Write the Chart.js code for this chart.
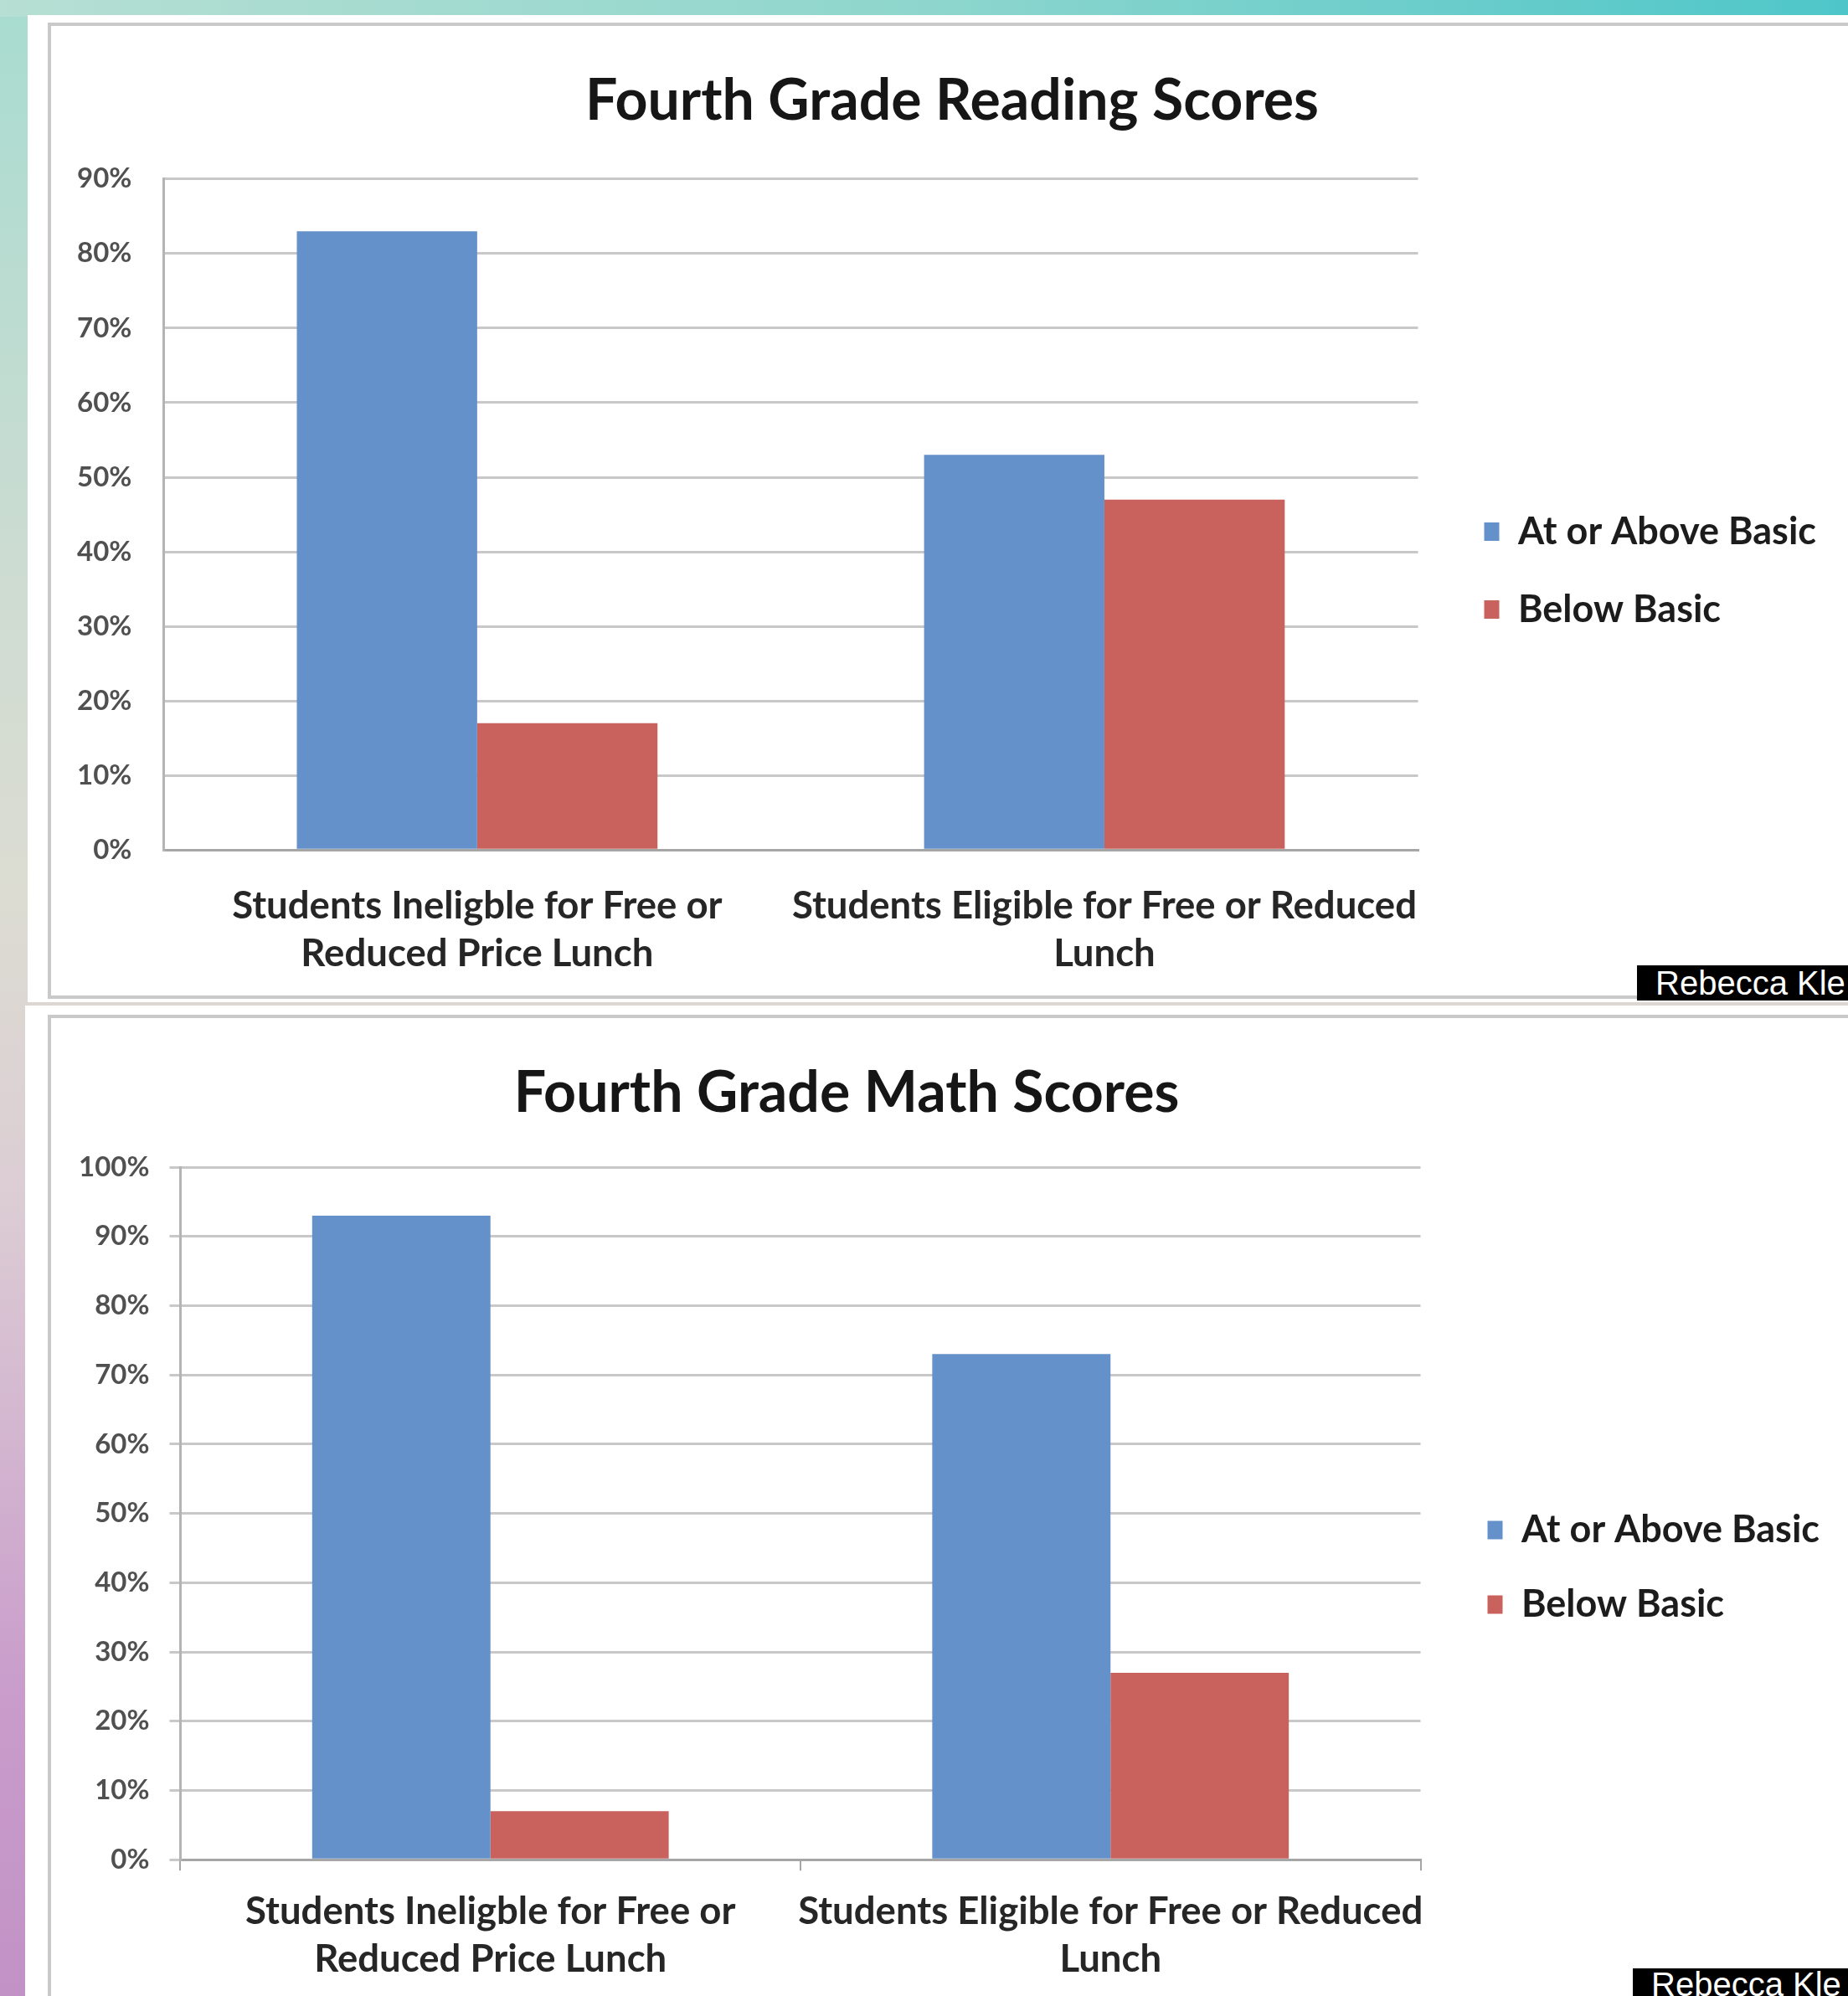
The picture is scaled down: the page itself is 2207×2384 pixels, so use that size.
<!DOCTYPE html>
<html>
<head>
<meta charset="utf-8">
<script src="https://cdn.jsdelivr.net/npm/chart.js@4.4.1/dist/chart.umd.min.js"></script>
<style>
    html, body {
        margin: 0;
        padding: 0;
    }
    body {
        width: 2207px;
        height: 2384px;
        position: relative;
        overflow: hidden;
        background: linear-gradient(to bottom, #a8dcd0 0%, #cfdcd2 30%, #dcdcd2 45%, #dccdd4 60%, #c99ccb 85%, #c292c6 100%);
    }
    .topband {
        position: absolute;
        left: 0; top: 0;
        width: 2207px; height: 20px;
        background: linear-gradient(to right, #b7dfd3 0%, #8ed6cd 50%, #4ec6c9 100%);
    }
    .panel {
        position: absolute;
        background: #ffffff;
    }
    .frame {
        position: absolute;
        border: 4px solid #c9c9c9;
        border-right: none;
        box-sizing: border-box;
    }
    .title {
        position: absolute;
        transform: translateX(-50%);
        font-family: Lato, sans-serif;
        font-weight: bold;
        font-size: 68px;
        line-height: 68px;
        color: #161616;
        white-space: nowrap;
    }
    .chartbox {
        position: absolute;
    }
    .credit {
        position: absolute;
        background: #000;
        color: #fff;
        font-family: "Liberation Sans", Arial, sans-serif;
        font-size: 40px;
        white-space: nowrap;
        overflow: hidden;
        box-sizing: border-box;
        padding-left: 22px;
    }
</style>
</head>
<body>
<div class="topband"></div>

<!-- ===== Reading panel ===== -->
<div class="panel" style="left:33px; top:18px; width:2174px; height:1179px;"></div>
<div class="frame" style="left:57px; top:27px; width:2150px; height:1166px;"></div>
<div class="title" style="left:1137px; top:83px;">Fourth Grade Reading Scores</div>
<div class="chartbox" style="left:24px; top:156px; width:2183px; height:1073px;">
    <canvas id="readingChart"></canvas>
</div>

<!-- ===== Math panel ===== -->
<div class="panel" style="left:30px; top:1201px; width:2177px; height:1183px;"></div>
<div class="frame" style="left:57px; top:1212px; width:2150px; height:1200px;"></div>
<div class="title" style="left:1011px; top:1268px;">Fourth Grade Math Scores</div>
<div class="chartbox" style="left:37px; top:1340px; width:2170px; height:1067px;">
    <canvas id="mathChart"></canvas>
</div>

<div class="credit" style="left:1955px; top:1153px; width:252px; height:42px; line-height:42px;">Rebecca Kle</div>
<div class="credit" style="left:1950px; top:2351px; width:257px; height:40px; line-height:38px;">Rebecca Kle</div>

<script>
/* ===============================
   DATA
================================ */
const categories = [
    ["Students Ineligble for Free or", "Reduced Price Lunch"],
    ["Students Eligible for Free or Reduced", "Lunch"]
];
const seriesNames = ["At or Above Basic", "Below Basic"];
const seriesColors = ["#6591ca", "#c9615c"];

const readingAbove = [83, 53];
const readingBelow = [17, 47];
const readingTicks = ["0%", "10%", "20%", "30%", "40%", "50%", "60%", "70%", "80%", "90%"];

const mathAbove = [93, 73];
const mathBelow = [7, 27];
const mathTicks = ["0%", "10%", "20%", "30%", "40%", "50%", "60%", "70%", "80%", "90%", "100%"];

/* ===============================
   DEFAULTS
================================ */
Chart.defaults.font.family = "Lato, sans-serif";
Chart.defaults.color = "#222";

// nudges the legend block (Excel puts it a bit further from the plot)
const legendOffset = {
    id: "legendOffset",
    afterLayout(chart, args, opts) {
        const lg = chart.legend;
        if (!lg) return;
        lg.left += opts.x || 0;
        lg.right += opts.x || 0;
        lg.top += opts.y || 0;
        lg.bottom += opts.y || 0;
    }
};

function makeChart(id, above, below, tickLabels, cfg) {
    const maxVal = (tickLabels.length - 1) * 10;
    return new Chart(document.getElementById(id), {
        type: "bar",
        data: {
            labels: categories,
            datasets: [
                { label: seriesNames[0], data: above, backgroundColor: seriesColors[0] },
                { label: seriesNames[1], data: below, backgroundColor: seriesColors[1] }
            ]
        },
        plugins: [legendOffset],
        options: {
            responsive: true,
            maintainAspectRatio: false,
            devicePixelRatio: 1,
            animation: false,
            layout: { padding: cfg.padding },
            datasets: {
                bar: { barPercentage: 1.0, categoryPercentage: 0.575 }
            },
            plugins: {
                legend: {
                    position: "right",
                    labels: {
                        boxWidth: 18,
                        boxHeight: 22,
                        padding: cfg.legendPad,
                        color: "#1c1c1c",
                        font: { size: 45, weight: "bold" }
                    }
                },
                legendOffset: cfg.legendShift,
                tooltip: { enabled: false }
            },
            scales: {
                x: {
                    grid: {
                        display: cfg.xTicks,
                        drawOnChartArea: false,
                        drawTicks: cfg.xTicks,
                        tickLength: 13,
                        color: "#a6a6a6",
                        lineWidth: 2
                    },
                    border: { display: true, color: "#a6a6a6", width: 3 },
                    ticks: {
                        padding: cfg.xPad,
                        maxRotation: 0,
                        autoSkip: false,
                        color: "#262626",
                        font: { size: 45.5, weight: "bold", lineHeight: 1.25 }
                    }
                },
                y: {
                    min: 0,
                    max: maxVal,
                    grid: {
                        color: "#c8c8c8",
                        lineWidth: 3,
                        drawTicks: cfg.yTicks,
                        tickLength: 13
                    },
                    border: { display: true, color: "#b4b4b4", width: 3 },
                    ticks: {
                        stepSize: 10,
                        padding: cfg.yPad,
                        color: "#505050",
                        font: { size: 33, weight: "bold" },
                        callback: (v, i) => tickLabels[i]
                    }
                }
            }
        }
    });
}

/* ===============================
   CHARTS
================================ */
makeChart("readingChart", readingAbove, readingBelow, readingTicks, {
    padding: { left: 30, top: 0, right: 59, bottom: 22 },
    legendPad: 48,
    legendShift: { x: 31, y: 0 },
    xTicks: false,
    yTicks: false,
    xPad: 39,
    yPad: 38
});

makeChart("mathChart", mathAbove, mathBelow, mathTicks, {
    padding: { left: 33, top: 54, right: 60, bottom: 17 },
    legendPad: 44,
    legendShift: { x: 36, y: -20 },
    xTicks: true,
    yTicks: true,
    xPad: 21,
    yPad: 24
});
</script>
</body>
</html>
